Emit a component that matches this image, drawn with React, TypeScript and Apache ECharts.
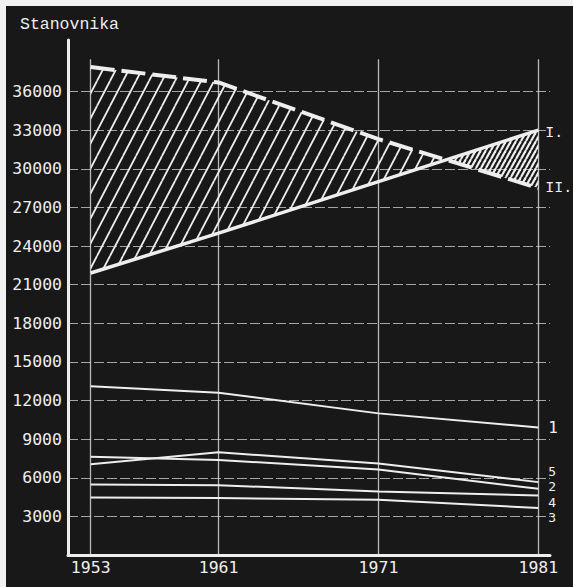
import React, { useEffect, useRef } from 'react';
import * as echarts from 'echarts';

// ---- data ----
const YEARS = [1953, 1961, 1971, 1981];
const SERIES_I = [21900, 25000, 29000, 33000];
const SERIES_II = [37900, 36700, 32300, 28500];
const SERIES_1 = [13100, 12600, 11000, 9900];
const SERIES_2 = [7640, 7380, 6640, 5140];
const SERIES_3 = [4470, 4420, 4290, 3650];
const SERIES_4 = [5470, 5420, 4940, 4620];
const SERIES_5 = [7040, 7980, 7110, 5660];
const Y_TICKS = [3000, 6000, 9000, 12000, 15000, 18000, 21000, 24000, 27000, 30000, 33000, 36000];
const X_TICKS = [1953, 1961, 1971, 1981];
const TITLE = 'Stanovnika';

// ---- styles ----
const INK = '#eeeeee';
const BG = '#181818';
const X_MIN = 1951.58;
const X_MAX = 1981.73;
const Y_MAX = 40000;
const VLINE_TOP = 38500;

function makeHatch(w: number, h: number, lw: number) {
  const c = document.createElement('canvas');
  c.width = w;
  c.height = h;
  const ctx = c.getContext('2d')!;
  ctx.strokeStyle = INK;
  ctx.lineWidth = lw;
  ctx.lineCap = 'butt';
  for (let k = -1; k <= 1; k++) {
    ctx.beginPath();
    ctx.moveTo(k * w, h);
    ctx.lineTo((k + 1) * w, 0);
    ctx.stroke();
  }
  return { image: c, repeat: 'repeat', imageWidth: w, imageHeight: h };
}

const pairs = (vals: number[]) => YEARS.map((y, i) => [y, vals[i]]);

export default function App() {
  const ref = useRef<HTMLDivElement>(null);
  useEffect(() => {
    if (!ref.current) return;
    const chart = echarts.init(ref.current, null, { renderer: 'svg' });
    const sparse = makeHatch(13, 25, 1.8);
    const dense = makeHatch(5, 9, 2.2);

    const lowerCfg = [
      { name: '1', data: SERIES_1, dy: 0, fs: 16 },
      { name: '5', data: SERIES_5, dy: -11, fs: 13 },
      { name: '2', data: SERIES_2, dy: -2.5, fs: 13 },
      { name: '4', data: SERIES_4, dy: 6.5, fs: 13 },
      { name: '3', data: SERIES_3, dy: 9.5, fs: 13 },
    ];

    const gridStyle = { color: 'rgba(225,225,225,0.7)', width: 1.2, type: [10, 3] };
    const vStyle = { color: 'rgba(225,225,225,0.8)', width: 1.3, type: 'solid' };

    const option: any = {
      animation: false,
      backgroundColor: BG,
      title: {
        text: TITLE,
        left: 14,
        top: 10,
        padding: 0,
        textStyle: { color: INK, fontFamily: 'Liberation Mono', fontSize: 16.5, fontWeight: 'normal' },
      },
      grid: { left: 62, right: 23, top: 34, bottom: 32 },
      xAxis: {
        type: 'value',
        min: X_MIN,
        max: X_MAX,
        axisLine: { show: true, lineStyle: { color: INK, width: 3 } },
        axisTick: { show: false },
        splitLine: { show: false },
        axisLabel: {
          customValues: X_TICKS,
          formatter: (v: number) => String(Math.round(v)),
          color: INK,
          fontFamily: 'DejaVu Sans Mono',
          fontSize: 16.5,
          margin: 4,
        },
      },
      yAxis: {
        type: 'value',
        min: 0,
        max: Y_MAX,
        interval: 3000,
        axisLine: { show: true, lineStyle: { color: INK, width: 3 } },
        axisTick: { show: false },
        splitLine: { show: false },
        axisLabel: {
          customValues: Y_TICKS,
          formatter: (v: number) => (v > 0 && v <= Y_TICKS[Y_TICKS.length - 1] ? String(v) : ''),
          color: INK,
          fontFamily: 'DejaVu Sans Mono',
          fontSize: 16.5,
          margin: 6,
        },
      },
      series: [
        {
          type: 'line',
          name: 'grid',
          data: [],
          silent: true,
          markLine: {
            silent: true,
            z: 1,
            symbol: 'none',
            label: { show: false },
            lineStyle: gridStyle,
            data: [
              ...Y_TICKS.map((v) => ({ yAxis: v, lineStyle: gridStyle })),
              ...X_TICKS.map((y) => [
                { coord: [y, 0], lineStyle: vStyle },
                { coord: [y, VLINE_TOP], lineStyle: vStyle },
              ]),
            ],
          },
        },
        {
          type: 'custom',
          name: 'hatch',
          z: 2,
          silent: true,
          data: [[YEARS[0], SERIES_I[0]]],
          renderItem: (_params: any, api: any) => {
            const top = YEARS.map((y, i) => api.coord([y, SERIES_II[i]]));
            const bot = YEARS.map((y, i) => api.coord([y, SERIES_I[i]]));
            let k = -1;
            for (let i = 0; i < YEARS.length - 1; i++) {
              const d0 = SERIES_II[i] - SERIES_I[i];
              const d1 = SERIES_II[i + 1] - SERIES_I[i + 1];
              if (d0 * d1 < 0) { k = i; break; }
            }
            if (k < 0) {
              return {
                type: 'polygon',
                shape: { points: [...top, ...bot.slice().reverse()] },
                style: { fill: sparse },
              };
            }
            const d0 = SERIES_II[k] - SERIES_I[k];
            const d1 = SERIES_II[k + 1] - SERIES_I[k + 1];
            const t = d0 / (d0 - d1);
            const cross = [
              top[k][0] + t * (top[k + 1][0] - top[k][0]),
              top[k][1] + t * (top[k + 1][1] - top[k][1]),
            ];
            const leftPts = [...top.slice(0, k + 1), cross, ...bot.slice(0, k + 1).reverse()];
            const rightPts = [cross, ...top.slice(k + 1), ...bot.slice(k + 1).reverse()];
            return {
              type: 'group',
              children: [
                { type: 'polygon', shape: { points: leftPts }, style: { fill: sparse } },
                { type: 'polygon', shape: { points: rightPts }, style: { fill: dense } },
              ],
            };
          },
        },
        {
          type: 'line',
          name: 'I.',
          z: 3,
          data: pairs(SERIES_I),
          symbol: 'none',
          lineStyle: { color: INK, width: 3.5 },
          endLabel: {
            show: true,
            formatter: 'I.',
            distance: 7,
            offset: [0, 3],
            color: INK,
            fontFamily: 'Liberation Mono',
            fontSize: 15,
          },
        },
        {
          type: 'line',
          name: 'II.',
          z: 3,
          data: pairs(SERIES_II),
          symbol: 'none',
          lineStyle: { color: INK, width: 4, type: [24, 7], cap: 'butt' },
          endLabel: {
            show: true,
            formatter: 'II.',
            distance: 7,
            offset: [0, 0],
            color: INK,
            fontFamily: 'Liberation Mono',
            fontSize: 15,
          },
        },
        ...lowerCfg.map((c) => ({
          type: 'line',
          name: c.name,
          z: 3,
          data: pairs(c.data),
          symbol: 'none',
          lineStyle: { color: INK, width: 2 },
          endLabel: {
            show: true,
            formatter: c.name,
            distance: 10,
            offset: [0, c.dy],
            color: INK,
            fontFamily: 'DejaVu Sans Mono',
            fontSize: c.fs,
            lineHeight: c.fs,
            padding: 0,
          },
        })),
      ],
    };
    chart.setOption(option);
    return () => chart.dispose();
  }, []);
  return (
    <div style={{ position: 'fixed', left: 0, top: 0, width: 573, height: 587, background: '#f2f2f2' }}>
      <div ref={ref} style={{ position: 'absolute', left: 6, top: 6, width: 567, height: 581 }} />
    </div>
  );
}
